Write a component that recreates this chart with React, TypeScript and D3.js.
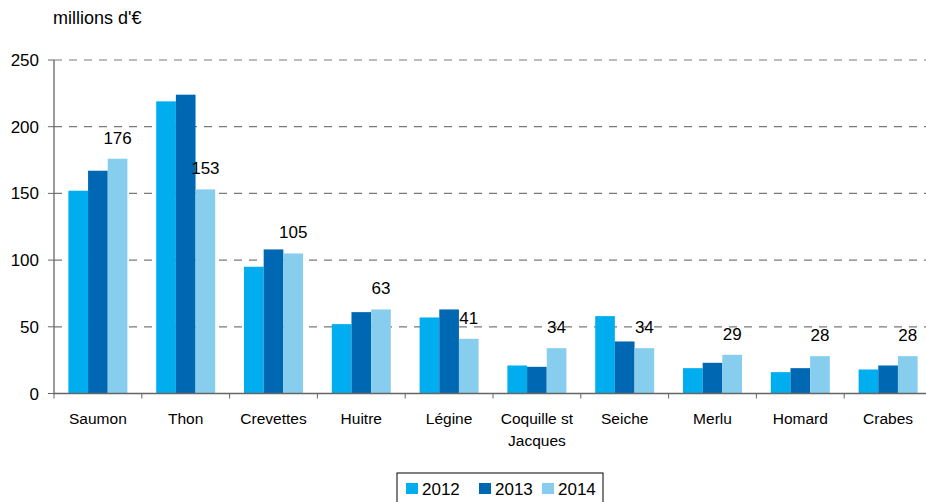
import React from "react";
import * as d3 from "d3";

const categories = ["Saumon", "Thon", "Crevettes", "Huitre", "Légine", "Coquille st Jacques", "Seiche", "Merlu", "Homard", "Crabes"];
const categoryLines = [["Saumon"], ["Thon"], ["Crevettes"], ["Huitre"], ["Légine"], ["Coquille st", "Jacques"], ["Seiche"], ["Merlu"], ["Homard"], ["Crabes"]];
const seriesNames = ["2012", "2013", "2014"];
const values2012 = [152, 219, 95, 52, 57, 21, 58, 19, 16, 18];
const values2013 = [167, 224, 108, 61, 63, 20, 39, 23, 19, 21];
const values2014 = [176, 153, 105, 63, 41, 34, 34, 29, 28, 28];
const yTicks = [0, 50, 100, 150, 200, 250];
const colors = ["#00AEEF", "#0068B2", "#87CEEE"];

const W = 926, H = 502;
const left = 54, bottom = 393.5, top = 60;
const bandW = 87.8;

export default function App() {
  const series = [values2012, values2013, values2014];
  const x = d3.scaleBand<string>().domain(categories).range([left, left + bandW * categories.length]).padding(0);
  const y = d3.scaleLinear().domain([0, 250]).range([bottom, top]);
  const bw = x.bandwidth();
  const sub = d3.scaleBand<string>().domain(seriesNames).range([0, bw * 0.672]).padding(0);
  const groupOff = bw * 0.164;
  const font = "Arial, 'Liberation Sans', Helvetica, sans-serif";

  return (
    <svg width={W} height={H} style={{ position: "absolute", left: 0, top: 0, background: "#fff" }} fontFamily={font}>
      <text x={53} y={24} fontSize={18} fill="#000">millions d'€</text>
      {yTicks.map((t) => (
        <g key={t}>
          {t > 0 && (
            <line x1={left} x2={W} y1={y(t)} y2={y(t)} stroke="#7a7a7a" strokeWidth={1.2} strokeDasharray="8,7" />
          )}
          <line x1={left - 6} x2={left} y1={y(t)} y2={y(t)} stroke="#666" strokeWidth={1} />
          <text x={39} y={y(t) + 6} fontSize={17} textAnchor="end" fill="#000">{t}</text>
        </g>
      ))}
      {categories.map((c, i) => (
        <g key={c}>
          {series.map((vals, s) => (
            <rect key={s}
              x={(x(c) as number) + groupOff + (sub(seriesNames[s]) as number)}
              y={y(vals[i])}
              width={sub.bandwidth()}
              height={bottom - y(vals[i])}
              fill={colors[s]} />
          ))}
          <text
            x={(x(c) as number) + groupOff + (sub("2014") as number) + sub.bandwidth() / 2}
            y={y(values2014[i]) - 15}
            fontSize={17} textAnchor="middle" fill="#000">{values2014[i]}</text>
          {categoryLines[i].map((ln, k) => (
            <text key={k} x={(x(c) as number) + bw / 2} y={424 + k * 22} fontSize={15.5} textAnchor="middle" fill="#000">{ln}</text>
          ))}
        </g>
      ))}
      {categories.map((c, i) => (
        <line key={"t" + i} x1={x(c) as number} x2={x(c) as number} y1={bottom} y2={bottom + 5} stroke="#666" strokeWidth={1} />
      ))}
      <line x1={left} x2={W} y1={bottom} y2={bottom} stroke="#666" strokeWidth={1.3} />
      <line x1={left} x2={left} y1={top} y2={bottom} stroke="#666" strokeWidth={1.3} />
      <g>
        <rect x={397} y={473} width={206} height={32} fill="none" stroke="#000" strokeWidth={1} />
        {seriesNames.map((s, k) => {
          const mx = [406, 479, 542][k];
          return (
            <g key={s}>
              <rect x={mx} y={483} width={12} height={11} fill={colors[k]} />
              <text x={mx + 16} y={495} fontSize={17} fill="#000">{s}</text>
            </g>
          );
        })}
      </g>
    </svg>
  );
}
